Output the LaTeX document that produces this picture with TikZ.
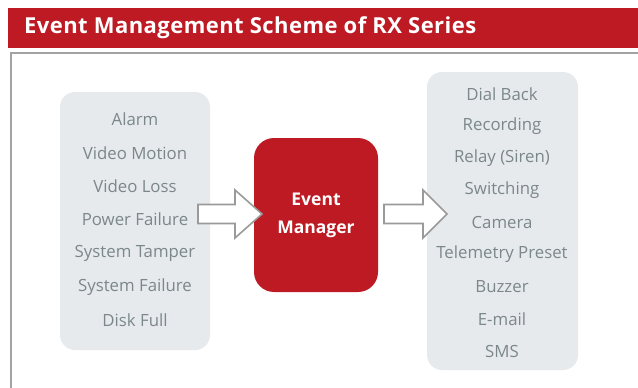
\documentclass[tikz,border=0pt]{standalone}
\usepackage{fontspec}
\setmainfont{Open Sans}
\definecolor{hred}{HTML}{BE1A24}
\definecolor{boxgray}{HTML}{E6EAED}
\definecolor{txtgray}{HTML}{7C878A}
\definecolor{framegray}{HTML}{A3A3A3}
\definecolor{arrgray}{HTML}{9A9A9A}
\tikzset{
  item/.style={text=txtgray, font=\fontsize{16.8}{20}\selectfont, inner sep=0pt, anchor=center},
  panel/.style={fill=boxgray, rounded corners=15pt, draw=none},
  blockarrow/.style={draw=arrgray, fill=white, line width=1.6pt, line join=miter},
}
\begin{document}
\begin{tikzpicture}[x=1pt,y=-1pt]
\useasboundingbox (0,0) rectangle (638,388);
% header
\fill[hred] (8,8) rectangle (638,48);
\node[anchor=west, text=white, font=\fontsize{22}{26}\selectfont\bfseries\addfontfeatures{LetterSpace=2}, inner sep=0pt] (title) at (24,28) {Event Management Scheme of RX Series};
% frame
\draw[framegray, line width=1.5pt] (10.75,400) -- (10.75,52.75) -- (645,52.75);
% panels
\fill[panel] (60,92) rectangle (210,350);
\fill[panel] (427,72) rectangle (578,370);
\fill[hred, rounded corners=20pt] (254,138) rectangle (378,292);
\node[text=white, font=\fontsize{17.5}{28}\selectfont\bfseries, align=center, inner sep=0pt] (em) at (316,215) {Event\\Manager};
% left items
\foreach \t/\y [count=\i] in {Alarm/119, Video Motion/153, Video Loss/186, Power Failure/219, System Tamper/253, System Failure/287, Disk Full/320}
  \node[item] (l\i) at (135,\y) {\t};
% right items
\foreach \t/\y [count=\i] in {Dial Back/94, Recording/126, Relay (Siren)/158, Switching/190, Camera/222, Telemetry Preset/254, Buzzer/287, E-mail/319, SMS/351}
  \node[item] (r\i) at (502,\y) {\t};
% arrows
\draw[blockarrow] (198,204.5) -- (235,204.5) -- (235,190) -- (262,214) -- (235,238) -- (235,223.5) -- (198,223.5) -- cycle;
\draw[blockarrow] (384,204.5) -- (423,204.5) -- (423,190) -- (447,214) -- (423,238) -- (423,223.5) -- (384,223.5) -- cycle;
\end{tikzpicture}
\end{document}
